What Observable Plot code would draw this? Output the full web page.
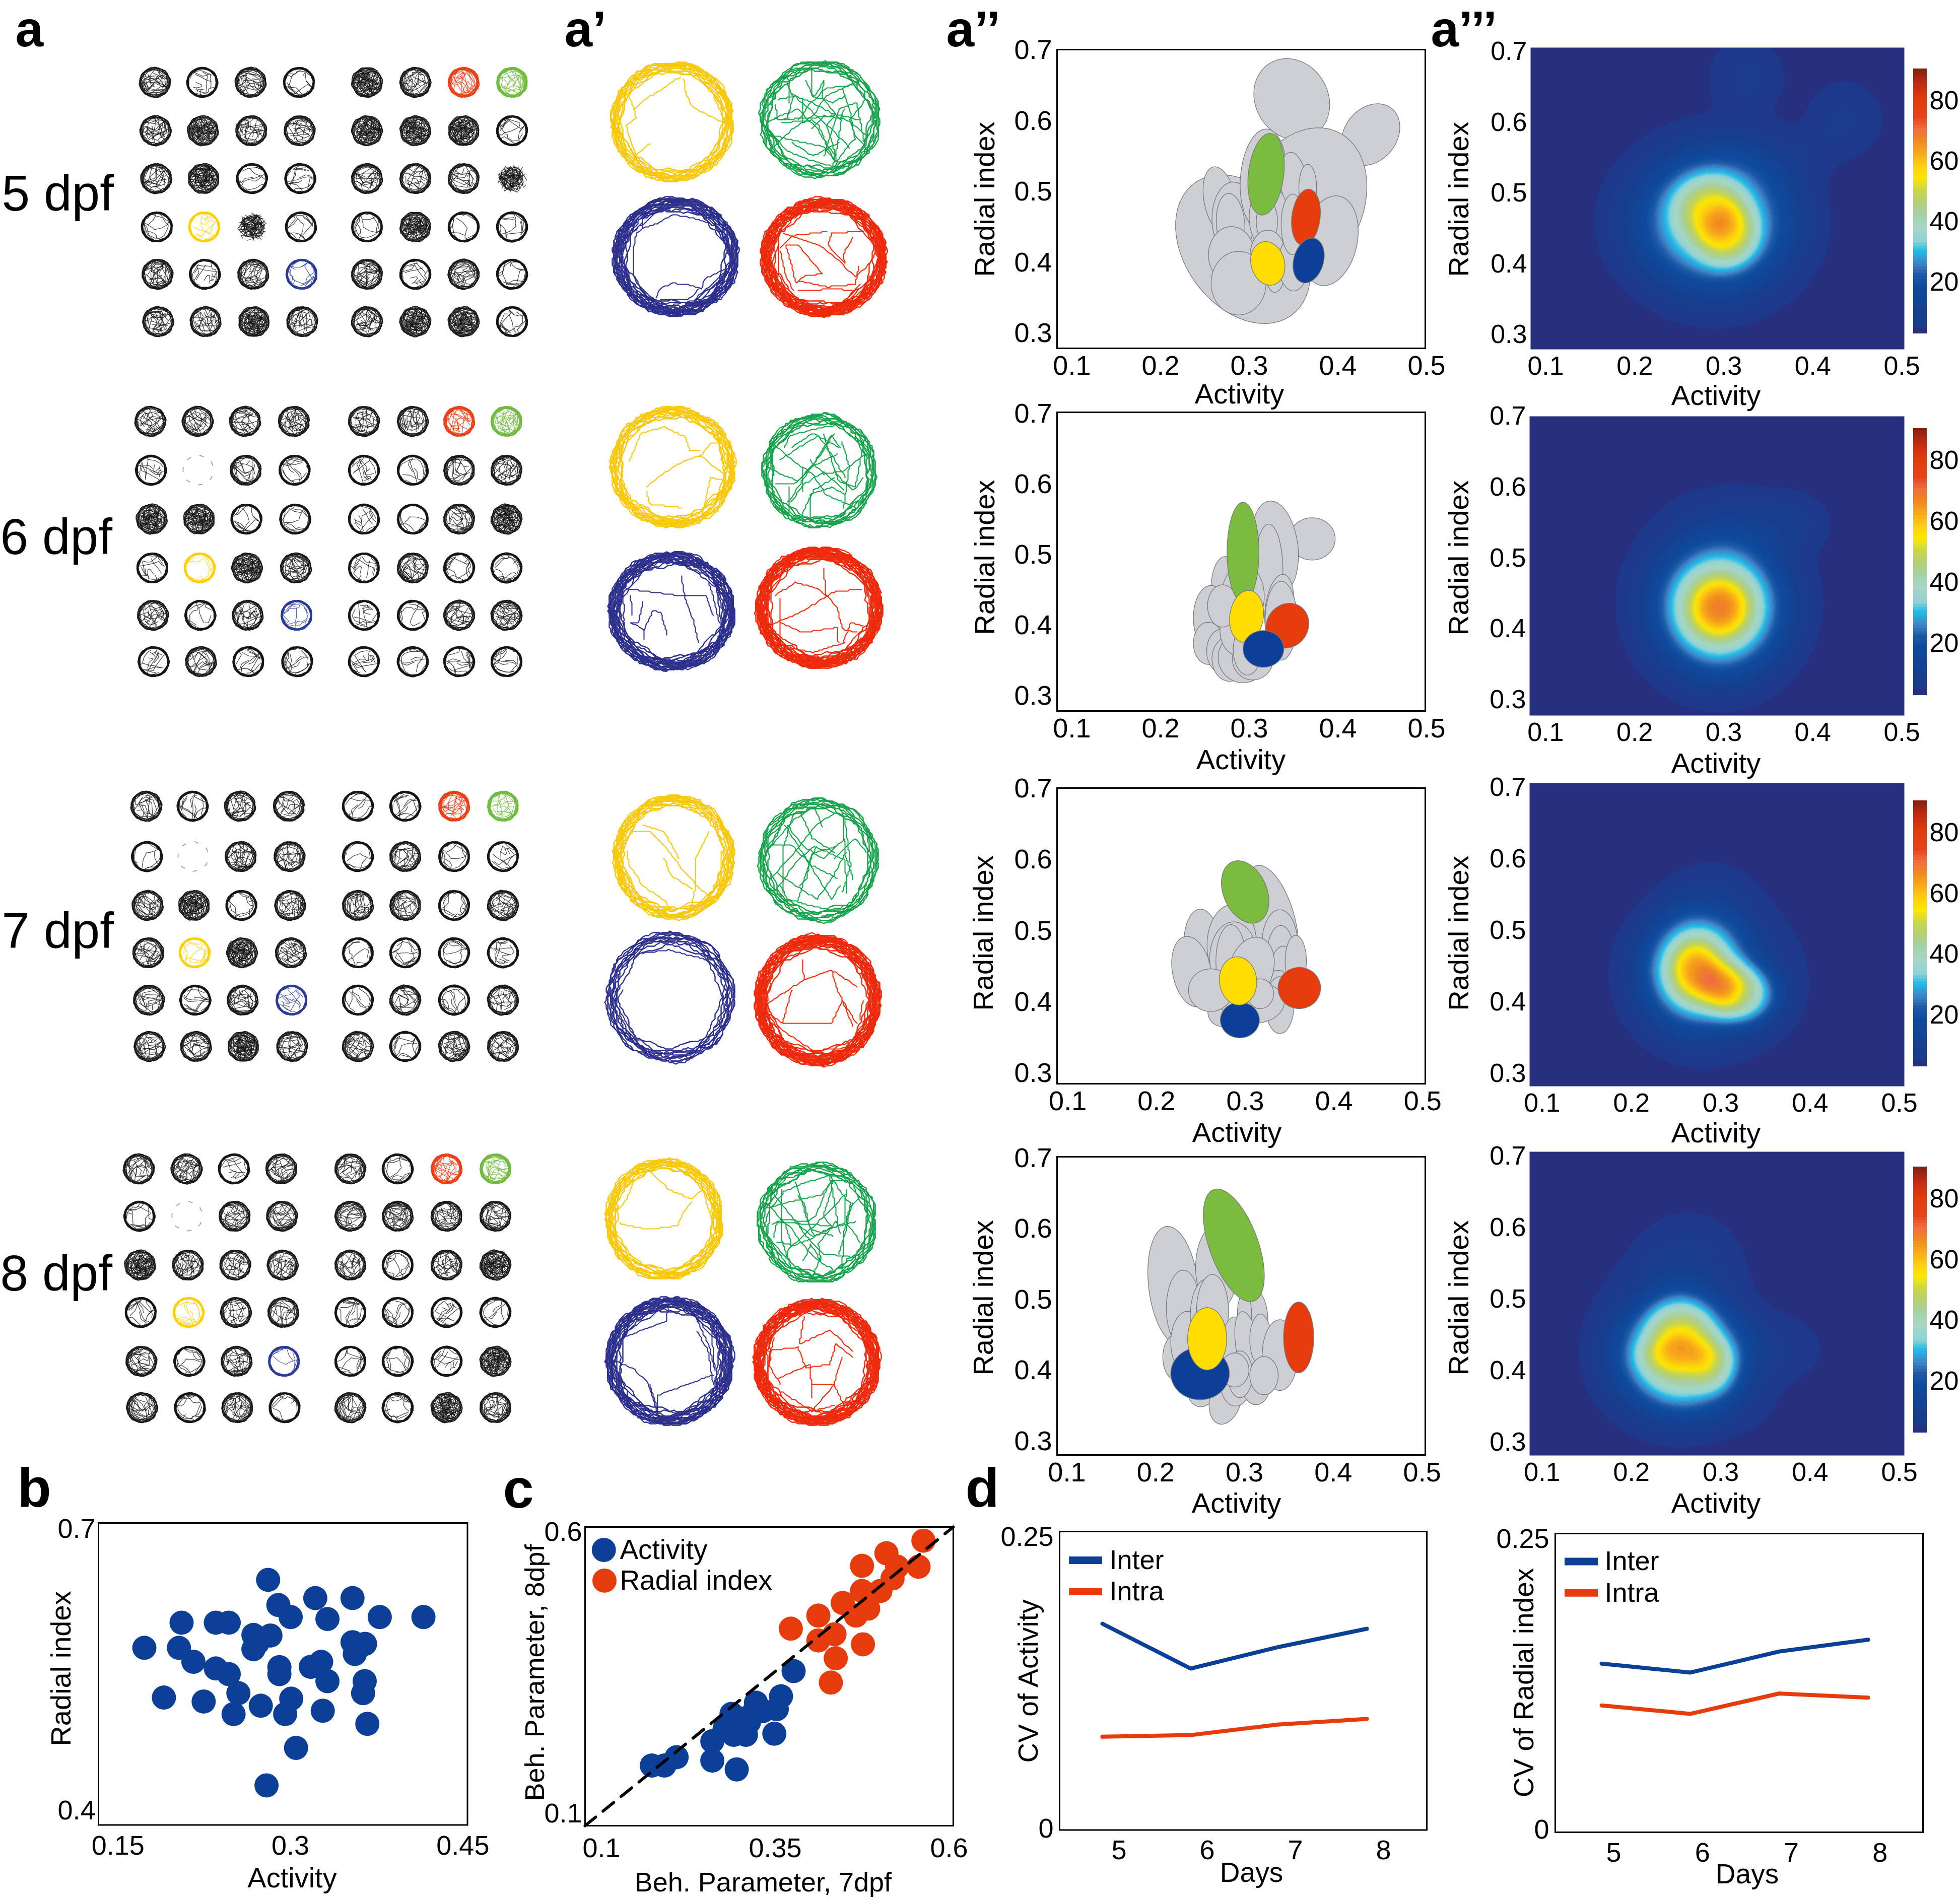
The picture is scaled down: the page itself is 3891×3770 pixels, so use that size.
<!DOCTYPE html>
<html><head><meta charset="utf-8">
<style>html,body{margin:0;padding:0;background:#fff}#stage{position:relative;width:3891px;height:3770px;overflow:hidden;background:#fff}svg{display:block}</style>
<script src="https://cdn.jsdelivr.net/npm/d3@7"></script>
<script src="https://cdn.jsdelivr.net/npm/@observablehq/plot@0.6"></script>
</head><body><div id="stage"></div>
<script>
const FONT = "'Liberation Sans', Arial, sans-serif";
const BLUE = "#0c3f96", RED = "#e63c0c", GREEN = "#7bbb3f", YELLOW = "#ffdd00", GREY = "#cdcfd2";

/* ---------- a: well plates (columns, rows, behaviour class of each well) ---------- */
const dayNames = ["5 dpf", "6 dpf", "7 dpf", "8 dpf"];
const dayNameX = [3, 0, 3, 0];
const dayNameBaseline = [417, 1099, 1881, 2561];
const wellCols = [
  [307, 401, 497, 593, 728, 824, 920, 1016],
  [298, 392, 486, 583, 722, 819, 911, 1005],
  [290, 382, 476, 573, 710, 804, 901, 998],
  [275, 370, 464, 558, 695, 789, 886, 983]
];
const wellRows = [
  [163, 259, 354, 450, 544, 638],
  [836, 933, 1030, 1127, 1221, 1313],
  [1600, 1700, 1797, 1891, 1985, 2077],
  [2320, 2414, 2511, 2605, 2702, 2794]
];
const wellClasses = [
  ["msmsDmRG", "mDmmDDDs", "mDssmmmX", "sYXssDss", "msmBmsms", "mmDmmDDs"],
  ["mmmmmmRG", "semsssmm", "DDssssmD", "sYDmsmss", "msmBssmm", "smssssss"],
  ["msmmssRG", "semmsmss", "mDsmmmsm", "mYDmssss", "msmBsmsm", "mmDmmsmm"],
  ["mmsmmsRG", "semmmmmm", "DmmmmsmM", "sYmmssss", "msmBsssD", "msmsmsDm"]
];

/* ---------- a': large arena tracks ---------- */
const arenaColor = { yellow: "#f8c808", green: "#14a24a", blue: "#2d2f8c", red: "#ee2a0c" };
const arenaLoops = { yellow: 14, green: 9, blue: 22, red: 28 };
const arenaCenters = {
  yellow: [[1334, 241, 122, 119], [1335, 927, 124, 120], [1337, 1701, 120, 123], [1318, 2420, 117, 120]],
  green:  [[1627, 236, 120, 117], [1626, 934, 114, 114], [1624, 1707, 119, 123], [1621, 2427, 119, 120]],
  blue:   [[1341, 509, 125, 118], [1333, 1213, 126, 118], [1330, 1979, 128, 130], [1329, 2702, 127, 127]],
  red:    [[1635, 510, 125, 118], [1626, 1206, 126, 120], [1623, 1985, 125, 130], [1621, 2704, 126, 125]]
};
const ringProfiles = [
  [97,99,98,96,97,100,98,97,95,97,99,101,98,96,97,99,97,95,96,98,100,98,97,99,96,95,97,99,98,96,98,100,97,96,98,99],
  [93,91,94,96,92,90,93,95,92,94,91,90,93,96,94,91,92,95,93,90,92,94,96,93,91,93,95,92,90,92,94,96,93,92,90,93],
  [88,90,87,85,88,91,89,86,84,87,90,88,85,87,89,86,83,86,89,91,88,85,87,90,87,84,86,89,91,87,85,88,90,86,84,87],
  [100,97,94,98,101,96,93,97,100,95,92,96,99,102,97,94,98,100,95,93,96,99,101,97,94,98,100,96,93,97,101,98,95,99,96,94],
  [84,82,86,89,85,81,83,87,90,86,82,80,84,88,85,81,84,87,83,80,85,89,86,82,80,84,88,85,81,83,87,89,84,81,85,88],
  [95,98,96,93,90,94,97,95,92,89,93,96,98,94,91,94,97,93,90,88,92,96,94,91,93,97,99,95,92,90,94,98,96,92,94,97]
];
/* interior paths, as u,v pairs in percent of the arena radius */
const yellowPaths = [
  [[-37,-37,-58,-56,-24,-83],[13,75,-16,54,-45,37,-62,21,-59,6,-75,-6,-68,-33,-58,-56],[19,71,22,48,32,25,55,13,87,-4],[-71,44,-62,21],[68,40,81,13,81,-25,68,-44]],
  [[-42,-33,-24,-17,10,6,44,20,81,-11],[-69,11,-51,56,-14,67,20,50,27,28,44,28],[44,17,61,39,88,39],[47,-78,61,-17,81,-22],[-42,-39,-37,-61,14,-67]],
  [[-68,41,-40,41,-16,20,12,-18,55,-62,68,-67],[-77,9,-74,-13,-51,-46,-12,-73,-9,-84],[58,41,37,-2,37,-46,26,-89],[-16,-2,-5,-29,30,-51],[-51,52,-16,41,9,-2],[79,9,79,-35,74,-57]],
  [[-23,78,7,50,47,33,65,50,86,-17],[-58,-11,-25,-17,22,-11,32,11,47,28],[-83,11,-67,28,-56,50,-50,72],[-76,-6,-58,-11]]
];
const greenPaths = [
  [[-76,2,-65,-2,-52,0,-14,2,24,6,11,-10,24,-53,28,-73],[-63,-6,-14,-2,-1,-12,11,-45,26,-73],[-86,-25,-48,-35,7,-47,28,-73,54,-73],[-78,-25,-57,-53,-18,-69,20,-80],[-48,45,-23,22,-1,2,24,-22,50,-49],[-69,33,-40,39,-14,29,20,10,67,-2],[-23,65,-10,37,7,65,3,37,33,-2,41,18],[-35,-2,-18,24,11,53,67,59],[37,53,50,14,58,-33,41,-53,24,-80],[37,6,28,-49,22,-80],[75,33,50,-2,58,-29,75,-45],[-74,25,-69,-2,-52,2],[-54,61,-44,37,-54,2]],
  [[-85,53,-48,18,-11,-6,11,-41,63,-65],[26,65,-4,18,-37,-18,-67,-6,-89,6],[-28,6,-28,-35],[-52,-29,-54,-76,-74,-65],[7,65,33,-18,63,-29,78,53],[-48,41,-11,65,33,41],[44,-41,22,-29,-15,-41,-15,-88],[-15,18,7,-6,44,0,81,29]],
  [[-56,57,-20,2,22,-63,37,-41],[44,35,8,2,-27,24,-52,57],[26,2,61,35,79,13],[-70,-20,-38,-41,-2,-63,22,-30,47,13],[-63,-41,-52,-63,-10,-74,44,-85],[-31,78,-10,35,26,13],[-80,24,-45,24,-10,-9,33,-30],[44,67,54,-9,40,-52]],
  [[-35,67,-14,0,-4,-22,46,0,49,56],[-85,33,-42,-11,-7,-56,28,-78],[-78,56,-35,0,-7,-22],[-60,56,-60,-22,-42,-78],[-32,44,-21,33,-11,-11,28,-22],[60,33,46,-11,42,-78],[7,-56,-7,-89],[-92,-11,-42,-67,-7,-89]]
];
const bluePaths = [
  [[-52,48,-29,55,-5,71,28,65,52,57],[-52,65,-52,48,-62,40,-66,22,-68,-28,-54,-55,-31,-74],[-31,-69,-25,-53,-5,-45,20,-47,40,-53,48,-36,81,-20],[-25,-72,20,-72,36,-55],[77,38,77,22,85,19],[-9,-82,28,-74,52,-51,81,-24]],
  [[-7,-40,-17,-2,-30,1,-43,-31,-43,-48],[15,60,20,26,35,-19,42,-53],[-45,15,-52,-19,-65,-19,-43,-31],[-72,38,-28,32,15,26,55,26,65,-8],[-65,26,-62,-8],[75,-19,65,26,58,49]],
  [[-78,36,-83,5,-86,-10,-74,10],[-84,-10,-58,-57,-32,-93],[-42,67,-2,72,57,57,83,31],[83,-26,93,-10]],
  [[-84,0,-58,-11,-35,-32,-20,-79,-18,-53,25,-37,68,-21],[-31,53,-5,63,-2,89],[-73,37,-31,53],[43,47,60,16,68,-37,84,5],[43,63,61,26,71,-16,65,47],[-31,-37,-18,-79]]
];
const redPaths = [
  [[-64,40,-32,28,-7,20,29,-11,50,-34,72,-11],[-69,16,-50,36,5,43],[13,41,7,20,33,-11,31,5,46,32],[-60,20,-44,-44,-32,-32,-3,-28,-42,20,-60,20],[-69,9,-60,-34,-48,-57],[-40,-40,5,-50,50,-46,56,-15],[58,-46,38,-69],[-73,20,-73,-26,-60,-57],[-40,-57,21,-53,46,-57],[13,41,62,43]],
  [[-80,-30,-30,-8,23,26,67,31],[-62,-24,-27,-41,28,-33,30,-58],[-70,20,-37,42,0,31,27,3,37,-36,60,-41],[-62,14,-62,-58],[7,64,10,20],[37,-58,50,-24,70,-30],[-77,-58,-10,-74,40,-58]],
  [[-79,-5,-56,10,-22,31,22,46,62,21],[-56,-36,-42,15],[-22,31,-25,62],[-76,-21,-56,-36,22,-36,39,0,62,-36],[22,46,29,21,39,0,56,-41],[66,-31,72,0],[-79,-31,-8,-77,59,-72]],
  [[-77,18,-30,24,-17,-9,20,-3,30,29,57,8],[-20,72,-27,29,20,51,57,18],[-60,-25,-10,-3,-8,-57],[-67,40,-77,-3,-57,-35],[-7,-35,27,-35,40,8],[43,-68,27,-35,-7,-78],[-57,-46,-7,-78,27,-68]]
];
const arenaPaths = { yellow: yellowPaths, green: greenPaths, blue: bluePaths, red: redPaths };

/* ---------- a'': activity vs radial index ellipses: [activity, radial, halfWidth, halfHeight, tilt, colour class] ---------- */
const ellipsesDay5 = [
  [.348,.631,.042,.058,-12],[.437,.581,.031,.045,20],[.360,.480,.069,.113,15],[.293,.419,.069,.110,-22],
  [.391,.431,.031,.064,8],[.267,.488,.018,.048,-8],[.282,.462,.024,.052,0],[.279,.454,.016,.044,-3],
  [.280,.411,.026,.040,0],[.288,.371,.031,.045,0],[.316,.518,.026,.071,3],[.350,.514,.015,.042,-5],
  [.366,.506,.010,.033,0],[.322,.464,.022,.046,0],[.320,.458,.012,.030,0],[.321,.410,.020,.036,0],
  [.329,.388,.011,.030,0],[.350,.399,.017,.039,0],[.349,.454,.013,.043,0],
  [.319,.525,.020,.058,5,GREEN],[.364,.464,.016,.040,5,RED],[.321,.399,.019,.031,-8,YELLOW],[.367,.403,.017,.032,10,BLUE]
];
const ellipsesDay6 = [
  [.371,.523,.026,.030,0],[.329,.511,.026,.066,-5],[.322,.477,.016,.067,0],[.273,.453,.016,.045,0],
  [.293,.442,.024,.045,0],[.257,.411,.020,.046,0],[.254,.375,.017,.030,0],[.269,.364,.017,.031,0],
  [.278,.353,.020,.032,0],[.293,.355,.028,.036,0],[.304,.353,.023,.030,0],[.334,.423,.016,.050,5],
  [.336,.407,.018,.056,0],[.287,.393,.020,.035,0],[.298,.366,.016,.036,0],[.270,.428,.017,.030,0],
  [.293,.504,.018,.071,0,GREEN],[.343,.400,.024,.032,10,RED],[.297,.413,.019,.037,5,YELLOW],[.316,.367,.023,.026,0,BLUE]
];
const ellipsesDay7 = [
  [.330,.516,.026,.078,-12],[.252,.476,.021,.055,-3],[.240,.443,.022,.050,-8],[.285,.480,.028,.057,0],
  [.287,.461,.027,.052,0],[.284,.458,.017,.051,0],[.339,.483,.020,.047,0],[.340,.461,.016,.047,0],
  [.343,.429,.017,.050,0],[.357,.458,.012,.036,0],[.337,.412,.016,.033,0],[.339,.396,.016,.040,0],
  [.274,.386,.016,.020,0],[.308,.400,.036,.030,0],[.307,.447,.025,.045,10],[.261,.417,.025,.030,0],[.317,.412,.015,.021,0],
  [.300,.555,.025,.045,-15,GREEN],[.361,.420,.024,.029,0,RED],[.294,.375,.022,.025,0,BLUE],[.292,.430,.021,.034,-3,YELLOW]
];
const ellipsesDay8 = [
  [.220,.520,.028,.084,-5],[.269,.546,.024,.060,0],[.231,.488,.019,.054,0],[.224,.419,.016,.033,0],
  [.236,.440,.019,.044,0],[.257,.477,.018,.052,0],[.264,.484,.018,.052,0],[.314,.480,.012,.035,-5],
  [.300,.480,.008,.030,0],[.289,.426,.016,.050,0],[.305,.428,.014,.056,-8],[.318,.444,.012,.036,0],
  [.340,.422,.020,.050,0],[.251,.371,.015,.022,0],[.279,.361,.018,.037,10],[.290,.382,.017,.032,0],
  [.313,.381,.016,.029,0],[.295,.395,.014,.033,0],[.289,.401,.016,.024,0],[.322,.393,.016,.027,0],
  [.288,.577,.028,.082,-15,GREEN],[.361,.447,.017,.050,0,RED],[.250,.396,.033,.037,0,BLUE],[.258,.445,.022,.044,0,YELLOW]
];

/* ---------- a''': density kernels: [activity, radial, height, sdX, sdY] ---------- */
const kernelsDay5 = [[.287,.46,28,.065,.07],[.284,.48,16,.030,.036],[.304,.44,18,.026,.034],[.293,.46,7,.058,.08],[.3256,.665,3,.033,.042],[.4356,.605,3,.033,.042],[.35,.55,2.5,.05,.035]];
const kernelsDay6 = [[.295,.43,40,.05,.065],[.295,.43,18,.024,.03],[.295,.445,7,.066,.088],[.375,.55,2.6,.03,.03],[.33,.55,2.6,.055,.035]];
const kernelsDay7 = [[.272,.445,36,.042,.058],[.325,.41,28,.03,.032],[.272,.445,18,.02,.03],[.30,.425,8,.018,.025],[.29,.435,7,.066,.075],[.29,.53,2.6,.04,.05]];
const kernelsDay8 = [[.255,.42,38,.05,.055],[.255,.47,12,.028,.032],[.252,.4225,12,.028,.02],[.295,.405,10,.02,.03],[.245,.44,7,.058,.08],[.265,.55,3,.045,.055],[.35,.43,2.8,.05,.04],[.29,.35,2.6,.05,.03]];
const densityBase = 3;
const colorStops = [3,4.25,4.3,10,18,22,25,28,30,33,38,42,46,50,54,58,62,66,70,74,80,85,90.6];
const colorRange = ["#26307f","#26307f","#1e398c","#15408f","#0d4a9e","#1c5aa8","#3d7ec2","#2fa4dc","#22bde8","#8fd2d6","#a6d7c6","#a6d0a6","#b5cf75","#cad74a","#ffe600","#fccf10","#f9a91b","#f08a20","#ee6f3f","#e8431a","#e03c0c","#c42c12","#7d1f10"];
const colorbarLevels = d3.range(3, 90.6, 1);

/* ---------- b ---------- */
const bActivity = [.2806,.3216,.3540,.2895,.3002,.3322,.3777,.4157,.2053,.2351,.2463,.2678,.2826,.2714,.2678,.3540,.3649,.3560,.1729,.2030,.2156,.2351,.2463,.2904,.2904,.3177,.3267,.3322,.3646,.3632,.1899,.2245,.2547,.2505,.2742,.3007,.2954,.3281,.3669,.3049,.2792];
const bRadial = [.6458,.6264,.6264,.6190,.6062,.6041,.6062,.6062,.6002,.6002,.6002,.5871,.5865,.5788,.5719,.5794,.5776,.5668,.5734,.5734,.5585,.5514,.5454,.5528,.5454,.5531,.5585,.5379,.5379,.5251,.5204,.5162,.5251,.5028,.5117,.5192,.5028,.5064,.4924,.4668,.4268];

/* ---------- c ---------- */
const cActivity7 = [.1725,.1905,.2081,.2595,.2595,.2946,.2872,.3223,.3583,.3522,.3764,.3487,.2771,.2902,.3078,.3122,.2968,.2837,.3320,.3188];
const cActivity8 = [.1854,.1854,.2003,.2286,.1943,.1785,.2773,.2971,.3085,.2857,.3533,.2420,.2499,.2400,.2400,.2624,.2698,.2574,.2822,.2797];
const cRadial7 = [.3724,.4120,.4120,.4352,.4471,.4660,.4748,.4748,.4836,.5011,.5099,.5187,.5253,.5561,.5631,.4761,.4370,.4300];
const cRadial8 = [.4287,.4520,.4078,.4188,.4744,.4520,.4957,.5404,.4644,.4957,.5628,.5181,.5389,.5389,.5851,.4009,.3761,.3329];

/* ---------- d ---------- */
const days = [5, 6, 7, 8];
const cvActivityInter = [.1757,.1373,.1558,.1714];
const cvActivityIntra = [.0789,.0803,.0894,.0942];
const cvRadialInter = [.1430,.1353,.1534,.1635];
const cvRadialIntra = [.1070,.0998,.1173,.1137];

/* ---------- helpers ---------- */
const stage = document.getElementById("stage");
function place(svg, left, top) {
  svg.style.position = "absolute"; svg.style.left = left + "px"; svg.style.top = top + "px";
  svg.style.maxWidth = "none"; svg.style.background = "transparent"; stage.append(svg);
}
const ML = 230, MR = 120, MT = 60, MB = 150;
function panel(o) {
  const fw = o.right - o.left, fh = o.bottom - o.top;
  const tickFont = o.tickFont || 54;
  const marks = [...o.marks];
  if (o.frame !== false) marks.push(Plot.frame({stroke: "#000", strokeWidth: 3}));
  marks.push(Plot.axisX({ticks: o.xTicks, tickSize: 0, tickPadding: o.xPad ?? 14, fontSize: tickFont, label: null, tickFormat: d => String(d), dx: o.xTickDx || 0, color: "#000"}));
  marks.push(Plot.axisY({ticks: o.yTicks, tickSize: 0, tickPadding: o.yPad ?? 10, fontSize: tickFont, label: null, tickFormat: d => String(d), color: "#000"}));
  marks.push(Plot.text([o.xLabel], {text: d => d, frameAnchor: "top-left", textAnchor: "middle", lineAnchor: "bottom", dx: o.xLabelX - o.left, dy: o.xLabelBase - o.top, fontSize: o.labelFont || 56, fill: "#000"}));
  marks.push(Plot.text([o.yLabel], {text: d => d, frameAnchor: "top-left", textAnchor: "middle", lineAnchor: "middle", rotate: -90, dx: o.yLabelX - o.left, dy: o.yLabelY - o.top, fontSize: o.labelFont || 56, fill: "#000"}));
  const svg = Plot.plot({
    width: fw + ML + MR, height: fh + MT + MB, marginLeft: ML, marginRight: MR, marginTop: MT, marginBottom: MB,
    x: {domain: o.xDomain}, y: {domain: o.yDomain},
    color: o.color, style: {fontFamily: FONT, background: "transparent", overflow: "visible"}, marks
  });
  place(svg, o.left - ML, o.top - MT);
}
function ellipseOutline(e) {
  const [cx, cy, a, b, tilt] = e, r = tilt * Math.PI / 180;
  return d3.range(0, 360, 6).map(t => {
    const q = t * Math.PI / 180, u = a * Math.cos(q), v = b * Math.sin(q);
    return {x: cx + u * Math.cos(r) + v * Math.sin(r), y: cy - u * Math.sin(r) + v * Math.cos(r)};
  });
}
const ellipseMarks = list => list.map(e => Plot.line(ellipseOutline(e), {x: "x", y: "y", curve: "linear-closed", fill: e[5] || GREY, stroke: "#77797c", strokeWidth: 1.3}));
function density(kernels) {
  return (x, y) => {
    let v = densityBase;
    for (const [cx, cy, h, sx, sy] of kernels) {
      const q = ((x - cx) / sx) ** 2 + ((y - cy) / sy) ** 2;
      v += h * Math.exp(-0.5 * Math.pow(q, 1.3));
    }
    return Math.floor(v / 1.4) * 1.4 + 0.1;
  };
}
const heatColor = {type: "linear", domain: colorStops, range: colorRange, clamp: true};

/* ---------- tracks ---------- */
const loopsBig = [], chordsBig = [], loopsMini = [], chordsMini = [];
let gid = 0;
function addLoop(out, box, profile, other, shift, scale, squeeze, color, gapEvery) {
  let g = "L" + (gid++);
  const n = profile.length, radius = k => (1 - (1 - profile[(k + shift) % n] / 100) * squeeze) * scale;
  for (let i = 0; i < n; i++) {
    const p = (radius(i) + radius(i + 1)) / 2 + 0.006 * (other[(i + shift) % n] - other[(i + shift + 1) % n]) * squeeze;
    for (const [t, r] of [[i, radius(i)], [i + 0.5, p]]) {
      if (gapEvery) { if (Math.floor(t + shift) % gapEvery < gapEvery - 2) { g = "L" + (gid++); continue; } }
      out.push({x: box[0] + box[2] * r * Math.cos(t * 2 * Math.PI / n), y: box[1] - box[3] * r * Math.sin(t * 2 * Math.PI / n), g, c: color});
    }
  }
  if (!gapEvery) { const r = radius(0); out.push({x: box[0] + box[2] * r, y: box[1], g, c: color}); }
}
function addPath(out, box, flat, deg, flip, scale, color) {
  const g = "P" + (gid++), r = deg * Math.PI / 180;
  for (let i = 0; i < flat.length; i += 2) {
    const u = flat[i] / 100 * (flip ? -1 : 1) * scale, v = flat[i + 1] / 100 * scale;
    out.push({x: box[0] + box[2] * (u * Math.cos(r) - v * Math.sin(r)), y: box[1] - box[3] * (u * Math.sin(r) + v * Math.cos(r)), g, c: color});
  }
}
/* recorded tracks are digitised on a coarse camera grid */
function digitise(points, grid) {
  const out = [];
  const snap = v => Math.round(v / grid) * grid;
  for (let i = 0; i < points.length; i++) {
    const a = points[i], b = points[i + 1];
    out.push({...a, x: snap(a.x), y: snap(a.y)});
    if (b && b.g === a.g) {
      const n = Math.floor(Math.hypot(b.x - a.x, b.y - a.y) / (grid * 1.5));
      for (let k = 1; k < n; k++) out.push({...a, x: snap(a.x + (b.x - a.x) * k / n), y: snap(a.y + (b.y - a.y) * k / n)});
    }
  }
  return out;
}
for (const k of ["yellow", "green", "blue", "red"]) {
  arenaCenters[k].forEach((box, d) => {
    const n = (k === "blue" && d === 2) ? 11 : arenaLoops[k];
    for (let j = 0; j < n; j++) {
      const inner = (k === "red" || k === "blue") && j % 5 === 4 ? 0.93 : 1;
      addLoop(loopsBig, box, ringProfiles[j % 6], ringProfiles[(j + 2) % 6], (j * 5 + d * 3) % 36, (1 - 0.012 * (j % 3)) * inner, 1 - 0.05 * (j % 4), arenaColor[k], 0);
    }
    for (const p of arenaPaths[k][d]) addPath(chordsBig, box, p, 0, false, 1, arenaColor[k]);
    if (k === "green") for (const p of arenaPaths[k][(d + 1) % 4]) addPath(chordsBig, box, p, 180, true, 0.97, arenaColor[k]);
  });
}
const miniTone = {R: "#ee3a10", G: "#6fb83c", Y: "#ffd000", B: "#2c3a96"};
wellClasses.forEach((rows, d) => rows.forEach((row, ri) => [...row].forEach((cls, ci) => {
  const skew = ci < 4 ? ri * 1.3 : 0;
  const box = [wellCols[d][ci] + skew, wellRows[d][ri], 31, 30];
  const tone = miniTone[cls] || "#141414";
  const rot = (ri * 3 + ci * 7 + d * 11) * 37, flip = (ri + ci + d) % 2 === 1;
  if (cls === "e") { addLoop(loopsMini, box, ringProfiles[0], ringProfiles[1], ci, 1, 1, "#888", 5); return; }
  const loops = {s: 9, m: 7, D: 6, M: 6, X: 1}[cls] ?? 9;
  const squeeze = cls === "s" || cls === "Y" || cls === "B" ? 0.65 : 1;
  if (cls !== "X") for (let j = 0; j < loops; j++) addLoop(loopsMini, box, ringProfiles[j % 6], ringProfiles[(j + 1) % 6], (j * 7 + ri + ci) % 36, 1 - 0.01 * (j % 3), squeeze, tone, 0);
  let lists;
  if (cls === "s" || cls === "B" || cls === "Y") lists = [bluePaths[(d + ci) % 4], yellowPaths[(d + ri) % 4]];
  else if (cls === "m" || cls === "R" || cls === "G") lists = [redPaths[(d + ri) % 4], greenPaths[(d + ci) % 4], bluePaths[(d + ri) % 4]];
  else lists = [redPaths[0], greenPaths[0], redPaths[1], greenPaths[1], redPaths[2], greenPaths[2], redPaths[3], greenPaths[3]];
  lists.forEach((l, li) => l.forEach(p => addPath(chordsMini, box, p, rot + li * 47, flip, 1, tone)));
})));

/* ---------- base plot: tracks and all free-standing text ---------- */
const panelLetters = ["a", "a\u2019", "a\u2019\u2019", "a\u2019\u2019\u2019", "b", "c", "d"];
const panelLetterX = [30, 1120, 1878, 2840, 34, 998, 1916];
const panelLetterBaseline = [91, 91, 91, 91, 2990, 2992, 2990];
const panelLetterSize = [100, 100, 100, 100, 110, 110, 110];
const lineChannels = {x: "x", y: "y", z: "g", stroke: "c"};
place(Plot.plot({
  width: 3891, height: 3770, margin: 0,
  x: {domain: [0, 3891], axis: null}, y: {domain: [3770, 0], axis: null},
  color: {type: "identity"}, style: {fontFamily: FONT, background: "transparent"},
  marks: [
    Plot.line(loopsMini, {...lineChannels, strokeWidth: 1.7, strokeOpacity: 0.85}),
    Plot.line(chordsMini, {...lineChannels, strokeWidth: 1.2, strokeOpacity: 0.8}),
    Plot.line(digitise(loopsBig, 3), {...lineChannels, strokeWidth: 2.4}),
    Plot.line(digitise(chordsBig, 3), {...lineChannels, strokeWidth: 2.1}),
    Plot.text(dayNames, {text: d => d, x: (d, i) => dayNameX[i], y: (d, i) => dayNameBaseline[i], textAnchor: "start", lineAnchor: "bottom", fontSize: 100, fill: "#000"}),
    ...panelLetters.map((t, i) => Plot.text([t], {text: d => d, x: panelLetterX[i], y: panelLetterBaseline[i], textAnchor: "start", lineAnchor: "bottom", fontSize: panelLetterSize[i], fontWeight: 700, fill: "#000"}))
  ]
}), 0, 0);

/* ---------- a'' panels ---------- */
const t1 = [.1, .2, .3, .4, .5], t2 = [.3, .4, .5, .6, .7];
const ellipsePanels = [
  {left: 2098, right: 2829, top: 98, bottom: 691, xDomain: [.0833, .4986], yDomain: [.2789, .7011], list: ellipsesDay5, xLabelX: 2460, xLabelBase: 800, yLabelX: 1956, yLabelY: 395},
  {left: 2098, right: 2829, top: 818, bottom: 1411, xDomain: [.0833, .4986], yDomain: [.279, .7025], list: ellipsesDay6, xLabelX: 2463, xLabelBase: 1526, yLabelX: 1956, yLabelY: 1106},
  {left: 2098, right: 2829, top: 1564, bottom: 2151, xDomain: [.088, .503], yDomain: [.2855, .701], list: ellipsesDay7, xLabelX: 2455, xLabelBase: 2266, yLabelX: 1953, yLabelY: 1852},
  {left: 2098, right: 2829, top: 2296, bottom: 2888, xDomain: [.089, .5036], yDomain: [.281, .702], list: ellipsesDay8, xLabelX: 2454, xLabelBase: 3002, yLabelX: 1953, yLabelY: 2576}
];
ellipsePanels.forEach(p => panel({...p, xTicks: t1, yTicks: t2, xLabel: "Activity", yLabel: "Radial index", marks: ellipseMarks(p.list)}));

/* ---------- a''' panels ---------- */
const heatPanels = [
  {left: 3038, right: 3780, top: 94, bottom: 693, xDomain: [.083, .5028], yDomain: [.2794, .7057], kernels: kernelsDay5, xLabelBase: 803, yLabelY: 395, barTop: 136, barBottom: 662},
  {left: 3036, right: 3780, top: 826, bottom: 1420, xDomain: [.082, .5028], yDomain: [.278, .70], kernels: kernelsDay6, xLabelBase: 1533, yLabelY: 1107, barTop: 850, barBottom: 1380},
  {left: 3036, right: 3780, top: 1554, bottom: 2156, xDomain: [.0859, .5056], yDomain: [.2824, .7063], kernels: kernelsDay7, xLabelBase: 2267, yLabelY: 1852, barTop: 1589, barBottom: 2117},
  {left: 3036, right: 3780, top: 2286, bottom: 2889, xDomain: [.0859, .5056], yDomain: [.2817, .7063], kernels: kernelsDay8, xLabelBase: 3002, yLabelY: 2576, barTop: 2316, barBottom: 2844}
];
heatPanels.forEach(p => {
  panel({...p, frame: false, color: heatColor, xTicks: t1, yTicks: t2, xPad: 14, yPad: 7, tickFont: 52, xLabel: "Activity", yLabel: "Radial index", xLabelX: 3406, yLabelX: 2897,
    marks: [Plot.raster({fill: density(p.kernels), x1: p.xDomain[0], x2: p.xDomain[1], y1: p.yDomain[0], y2: p.yDomain[1], pixelSize: 1.5, imageRendering: "auto"})]});
  const bar = Plot.plot({
    width: 27 + 80, height: p.barBottom - p.barTop + 40, marginLeft: 0, marginRight: 80, marginTop: 20, marginBottom: 20,
    x: {domain: [0, 1], axis: null}, y: {domain: [3, 90.6], axis: null}, color: heatColor,
    style: {fontFamily: FONT, background: "transparent", overflow: "visible"},
    marks: [
      Plot.rect(colorbarLevels, {x1: 0, x2: 1, y1: d => d, y2: d => Math.min(d + 1.3, 90.6), fill: d => d}),
      Plot.axisY({anchor: "right", ticks: [20, 40, 60, 80], tickSize: 0, tickPadding: 5, fontSize: 52, label: null, color: "#000", tickFormat: d => String(d)})
    ]
  });
  place(bar, 3798, p.barTop - 20);
});

/* ---------- b ---------- */
panel({left: 194.5, right: 927, top: 3023, bottom: 3622.5, xDomain: [.133, .454], yDomain: [.3847, .7064],
  xTicks: [.15, .3, .45], yTicks: [.4, .7], xPad: 21, yPad: 6, xLabel: "Activity", yLabel: "Radial index", xLabelX: 579, xLabelBase: 3746, yLabelX: 121, yLabelY: 3312,
  marks: [Plot.dot(bActivity, {x: d => d, y: (d, i) => bRadial[i], r: 24, fill: BLUE})]});

/* ---------- c ---------- */
const cLegendNames = ["Activity", "Radial index"], cLegendColors = [BLUE, RED], cLegendY = [.5687, .5141];
panel({left: 1160.6, right: 1891.5, top: 3031, bottom: 3624, xDomain: [.0765, .606], yDomain: [.0785, .6094],
  xTicks: [.1, .35, .6], yTicks: [.1, .6], xPad: 24, yPad: 6, labelFont: 54, xLabel: "Beh. Parameter, 7dpf", yLabel: "Beh. Parameter, 8dpf", xLabelX: 1514, xLabelBase: 3755, yLabelX: 1062, yLabelY: 3320,
  marks: [
    Plot.dot(cActivity7, {x: d => d, y: (d, i) => cActivity8[i], r: 24, fill: BLUE}),
    Plot.dot(cRadial7, {x: d => d, y: (d, i) => cRadial8[i], r: 24, fill: RED}),
    Plot.line([[.0765, .0785], [.606, .6094]], {x: d => d[0], y: d => d[1], stroke: "#000", strokeWidth: 6, strokeDasharray: "27,19"}),
    Plot.dot(cLegendY, {x: [.1035, .1044], y: d => d, r: 24, fill: (d, i) => cLegendColors[i]}),
    Plot.text(cLegendNames, {text: d => d, x: .1264, y: (d, i) => cLegendY[i], textAnchor: "start", fontSize: 55, fill: "#000"})
  ]});

/* ---------- d ---------- */
function cvPanel(p) {
  panel({...p, xTicks: days, yTicks: [0, .25], xPad: 20, yPad: 12, labelFont: 55, xLabel: "Days",
    marks: [
      Plot.line(days, {x: d => d, y: (d, i) => p.inter[i], stroke: BLUE, strokeWidth: 8}),
      Plot.line(days, {x: d => d, y: (d, i) => p.intra[i], stroke: RED, strokeWidth: 8}),
      Plot.ruleY(p.legendY, {y: d => d, x1: p.swatch[0], x2: p.swatch[1], stroke: (d, i) => [BLUE, RED][i], strokeWidth: 15}),
      Plot.text(["Inter", "Intra"], {text: d => d, x: p.legendX, y: (d, i) => p.legendY[i], textAnchor: "start", fontSize: 54, fill: "#000"})
    ]});
}
cvPanel({left: 2103, right: 2832, top: 3040, bottom: 3632.5, xDomain: [4.514, 8.68], yDomain: [-.001, .2547], xTickDx: 33, inter: cvActivityInter, intra: cvActivityIntra,
  yLabel: "CV of Activity", xLabelX: 2484, xLabelBase: 3735, yLabelX: 2042, yLabelY: 3337, legendY: [.2301, .2033], swatch: [4.623, 5], legendX: 5.08});
cvPanel({left: 3087, right: 3817, top: 3044, bottom: 3637, xDomain: [4.478, 8.619], yDomain: [-.002, .2548], xTickDx: 24, inter: cvRadialInter, intra: cvRadialIntra,
  yLabel: "CV of Radial index", xLabelX: 3468, xLabelBase: 3738, yLabelX: 3026, yLabelY: 3340, legendY: [.2308, .2038], swatch: [4.586, 4.96], legendX: 5.034});
</script></body></html>
